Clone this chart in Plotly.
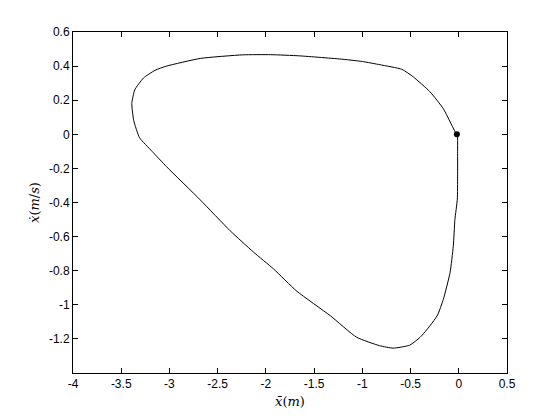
import plotly.graph_objects as go

# траектория в фазовой плоскости
x_pos = [-0.012, -0.012, -0.012, -0.015, -0.04, -0.057, -0.09, -0.16, -0.22, -0.30,
         -0.40, -0.51, -0.68, -0.82, -1.06, -1.33, -1.68, -1.92, -2.13, -2.37,
         -2.68, -3.03, -3.18, -3.31, -3.37, -3.39, -3.36, -3.27, -3.15, -3.03,
         -2.68, -2.24, -1.95, -1.65, -1.20, -1.00, -0.817, -0.59, -0.47, -0.298,
         -0.16, -0.073, -0.029]
x_vel = [0.0, -0.10, -0.25, -0.38, -0.50, -0.657, -0.81, -0.968, -1.06, -1.124,
         -1.19, -1.237, -1.254, -1.24, -1.19, -1.065, -0.92, -0.79, -0.69, -0.566,
         -0.385, -0.19, -0.10, -0.02, 0.08, 0.18, 0.26, 0.33, 0.375, 0.40,
         0.445, 0.466, 0.467, 0.46, 0.44, 0.427, 0.408, 0.381, 0.336, 0.249,
         0.15, 0.054, 0.005]

end_x = [-0.02]
end_y = [0.0]

x_ticks = [-4, -3.5, -3, -2.5, -2, -1.5, -1, -0.5, 0, 0.5]
y_ticks = [-1.2, -1, -0.8, -0.6, -0.4, -0.2, 0, 0.2, 0.4, 0.6]

fig = go.Figure()
fig.add_trace(go.Scatter(x=x_pos, y=x_vel, mode='lines',
                         line=dict(color='black', width=1, shape='spline', smoothing=0.5),
                         showlegend=False))
fig.add_trace(go.Scatter(x=end_x, y=end_y, mode='markers',
                         marker=dict(color='black', size=6), showlegend=False))

axis_style = dict(showline=True, linecolor='black', linewidth=1, mirror='ticks',
                  ticks='inside', ticklen=5, tickcolor='black', showgrid=False,
                  zeroline=False, tickfont=dict(family='Liberation Sans', size=12, color='black'))

fig.update_xaxes(range=[-4, 0.5], tickvals=x_ticks,
                 ticktext=[f'{v:g}' for v in x_ticks],
                 title=dict(text='<i>x̄</i>(<i>m</i>)', standoff=6,
                            font=dict(family='DejaVu Serif', size=13, color='black')),
                 **axis_style)
fig.update_yaxes(range=[-1.4, 0.6], tickvals=y_ticks,
                 ticktext=[f'{v:g}' for v in y_ticks],
                 title=dict(text='<i>ẋ</i>(<i>m</i>/<i>s</i>)', standoff=6,
                            font=dict(family='DejaVu Serif', size=13, color='black')),
                 **axis_style)

# страница сдвигает график на 8px (отступ body), поэтому поля поправлены
fig.update_layout(width=560, height=420, plot_bgcolor='white', paper_bgcolor='white',
                  margin=dict(l=65, r=61, t=24, b=55))

fig.write_html("out.html")
